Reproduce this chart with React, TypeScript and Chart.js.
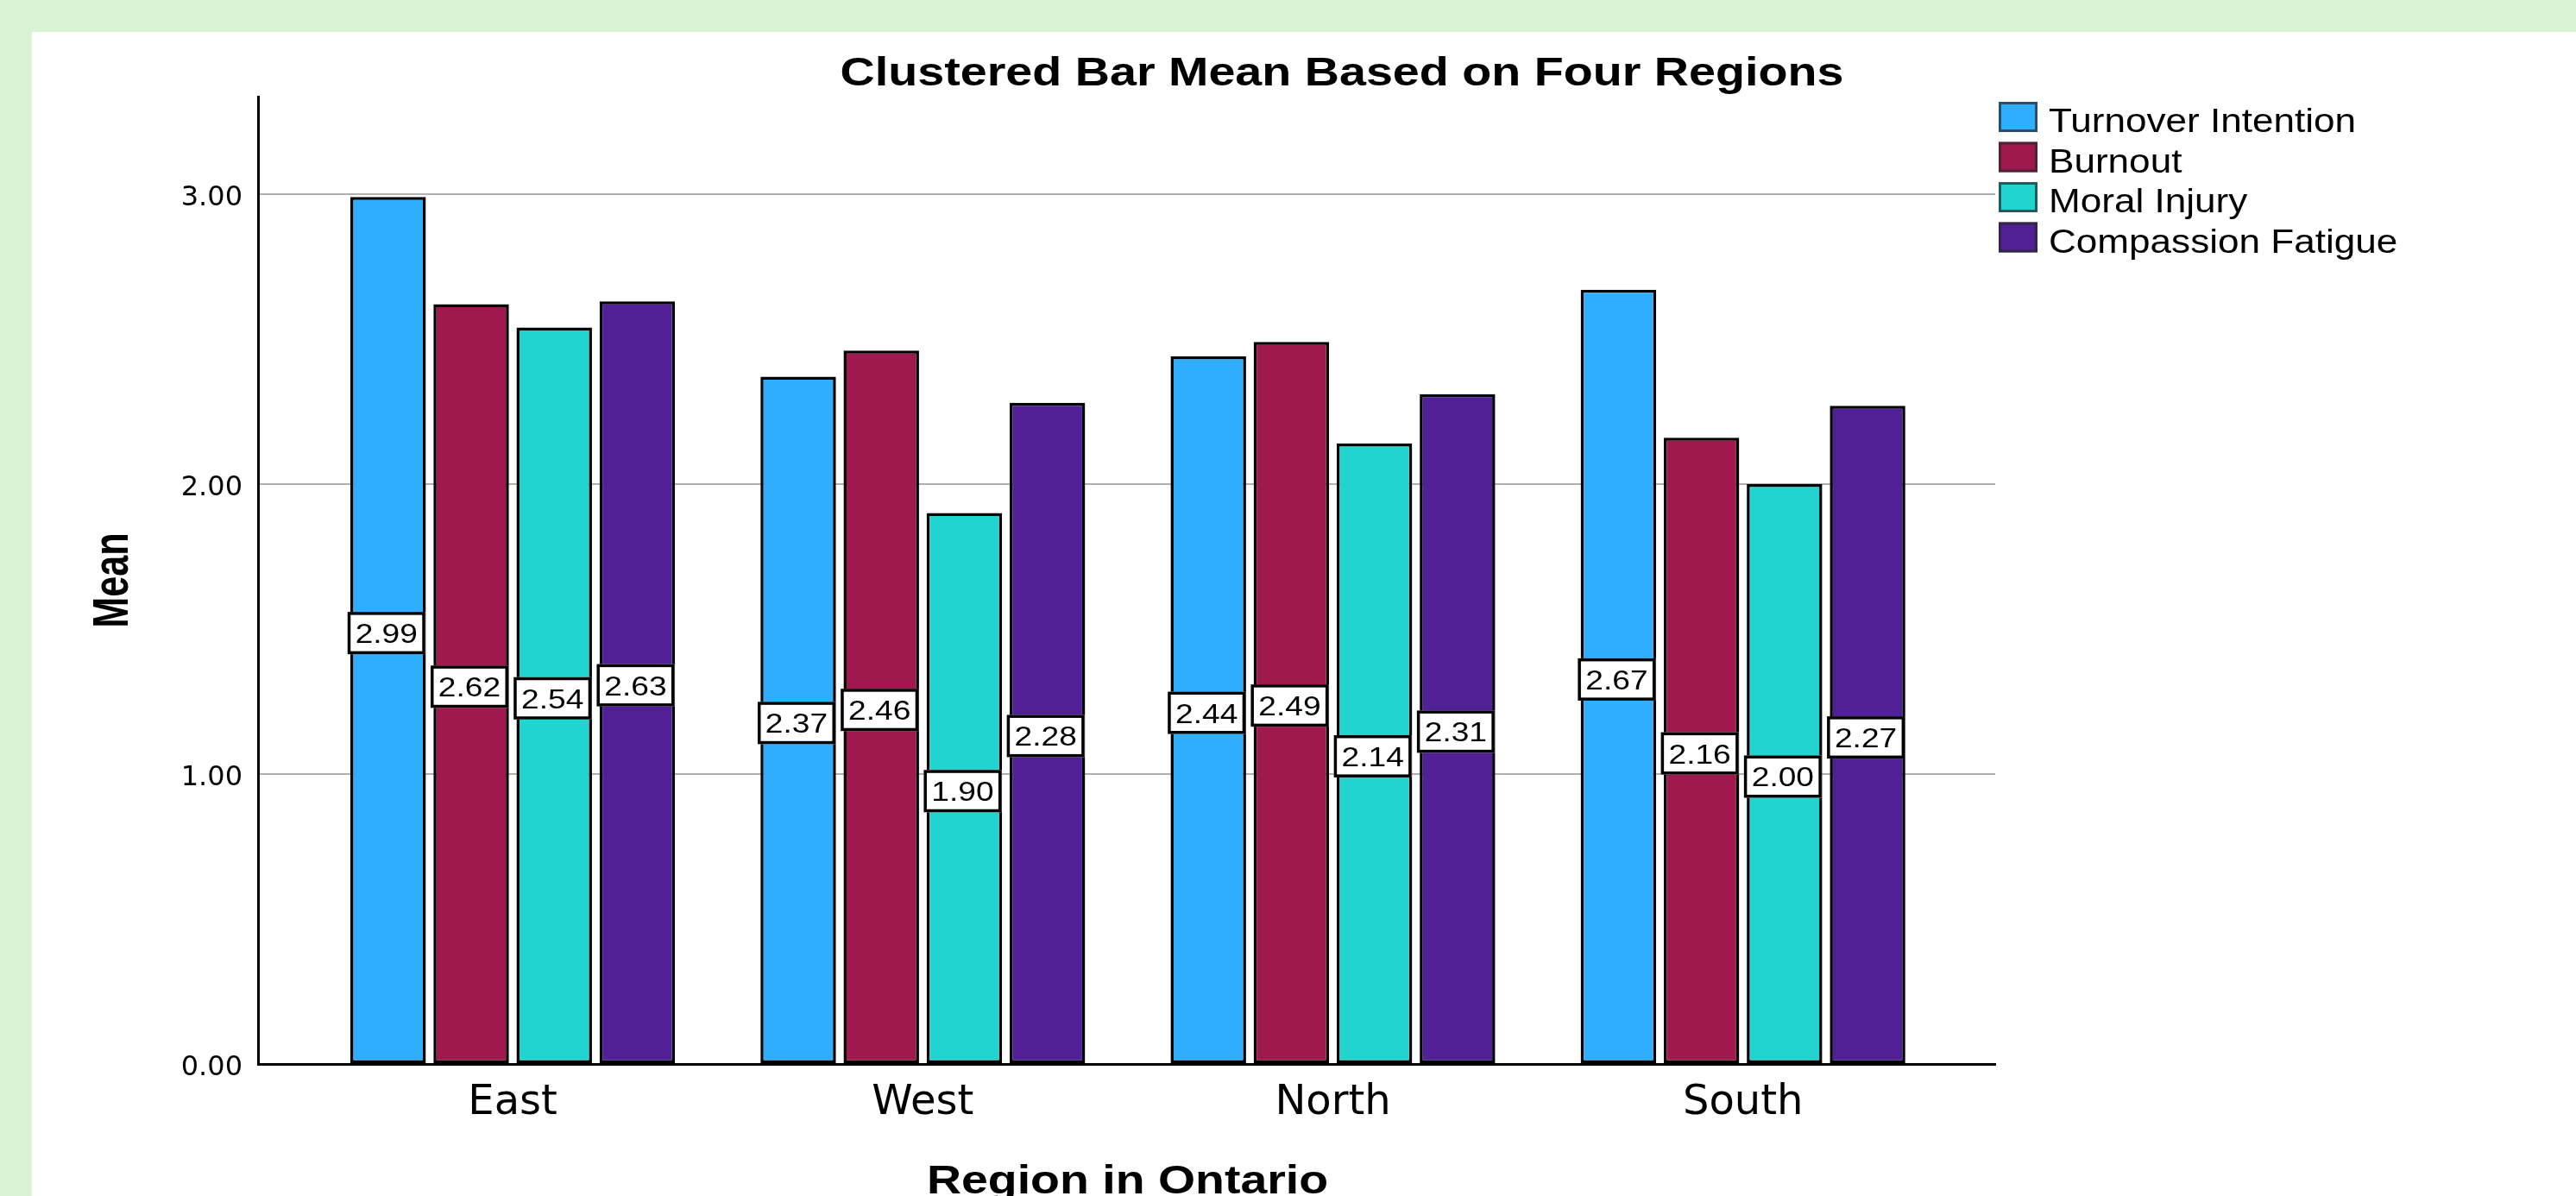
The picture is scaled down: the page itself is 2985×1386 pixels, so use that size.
import React, { useEffect, useRef } from 'react';
import { Chart, registerables } from 'chart.js';

Chart.register(...registerables);

// ---- data ----
const regions = ['East', 'West', 'North', 'South'];
const seriesNames = ['Turnover Intention', 'Burnout', 'Moral Injury', 'Compassion Fatigue'];
const turnoverIntention = [2.99, 2.37, 2.44, 2.67];
const burnout = [2.62, 2.46, 2.49, 2.16];
const moralInjury = [2.54, 1.9, 2.14, 2.0];
const compassionFatigue = [2.63, 2.28, 2.31, 2.27];
const yTickValues = [0, 1, 2, 3];

const chartTitle = 'Clustered Bar Mean Based on Four Regions';
const xAxisTitle = 'Region in Ontario';
const yAxisTitle = 'Mean';

const seriesColors = ['#30aefe', '#a0194e', '#21d4d0', '#511f96'];
const seriesValues = [turnoverIntention, burnout, moralInjury, compassionFatigue];

const CANVAS_W = 2948;
const CANVAS_H = 1349;

function drawStretched(ctx: CanvasRenderingContext2D, text: string, x: number, y: number, font: string, sx: number, align: CanvasTextAlign) {
  ctx.save();
  ctx.font = font;
  ctx.textAlign = align;
  ctx.textBaseline = 'alphabetic';
  ctx.fillStyle = '#000';
  ctx.translate(x, y);
  ctx.scale(sx, 1);
  ctx.fillText(text, 0, 0);
  ctx.restore();
}

const overlayPlugin = {
  id: 'spssOverlay',
  afterDatasetsDraw(chart: any) {
    const ctx: CanvasRenderingContext2D = chart.ctx;
    chart.data.datasets.forEach((ds: any, di: number) => {
      const meta = chart.getDatasetMeta(di);
      meta.data.forEach((el: any, j: number) => {
        const v = ds.data[j].y as number;
        const cx = el.x - 2;
        const cy = (el.y + el.base) / 2 + 3.5;
        const w = 90;
        const h = 49;
        ctx.save();
        ctx.fillStyle = '#fff';
        ctx.fillRect(cx - w / 2, cy - h / 2, w, h);
        ctx.strokeStyle = '#000';
        ctx.lineWidth = 3.5;
        ctx.strokeRect(cx - w / 2 + 1.75, cy - h / 2 + 1.75, w - 3.5, h - 3.5);
        ctx.restore();
        drawStretched(ctx, v.toFixed(2), cx, cy + 11.5, '32px "Liberation Sans"', 1.16, 'center');
      });
    });
  },
  afterDraw(chart: any) {
    const ctx: CanvasRenderingContext2D = chart.ctx;
    // chart title
    drawStretched(ctx, chartTitle, 1518, 62, 'bold 46px "Liberation Sans"', 1.21, 'center');
    // x axis title
    const area = chart.chartArea;
    drawStretched(ctx, xAxisTitle, (area.left + area.right) / 2 + 1, 1346, 'bold 47px "Liberation Sans"', 1.18, 'center');
    // y axis title (rotated)
    ctx.save();
    ctx.font = 'bold 48px "Liberation Sans"';
    ctx.textAlign = 'center';
    ctx.textBaseline = 'alphabetic';
    ctx.fillStyle = '#000';
    ctx.translate(111, (area.top + area.bottom) / 2);
    ctx.rotate(-Math.PI / 2);
    ctx.scale(0.9, 1.2);
    ctx.fillText(yAxisTitle, 0, 0);
    ctx.restore();
    // legend
    seriesNames.forEach((name, i) => {
      const bx = 2279;
      const by = 81 + 46.5 * i;
      ctx.save();
      ctx.fillStyle = seriesColors[i];
      ctx.fillRect(bx, by, 45, 35);
      ctx.strokeStyle = 'rgba(40,40,40,0.7)';
      ctx.lineWidth = 3;
      ctx.strokeRect(bx + 1.5, by + 1.5, 42, 32);
      ctx.restore();
      drawStretched(ctx, name, 2337, by + 35, '38px "Liberation Sans"', 1.16, 'left');
    });
  },
};

export default function App() {
  const canvasRef = useRef<HTMLCanvasElement>(null);

  useEffect(() => {
    const canvas = canvasRef.current;
    if (!canvas) return;
    const chart = new Chart(canvas, {
      type: 'bar',
      data: {
        datasets: seriesNames.map((name, i) => ({
          label: name,
          data: seriesValues[i].map((v, k) => ({ x: k, y: v })),
          backgroundColor: seriesColors[i],
          borderColor: '#000',
          borderWidth: 3.5,
          borderSkipped: false,
          categoryPercentage: 0.81,
          barPercentage: 0.909,
        })),
      },
      options: {
        responsive: false,
        animation: false,
        devicePixelRatio: 1,
        events: [],
        layout: { padding: { left: 0, right: 673, top: 75, bottom: 0 } },
        plugins: {
          legend: { display: false },
          title: { display: false },
          tooltip: { enabled: false },
        },
        scales: {
          x: {
            type: 'linear',
            min: -0.621,
            max: 3.615,
            offset: false,
            afterBuildTicks: (s: any) => {
              s.ticks = regions.map((_, i) => ({ value: i }));
            },
            afterFit: (s: any) => {
              s.height = 153;
            },
            grid: { display: false, drawTicks: false, offset: false },
            border: { display: true, color: '#000', width: 3 },
            ticks: {
              callback: (v: any) => regions[Number(v)] ?? '',
              font: { family: '"DejaVu Sans"', size: 48 },
              color: '#000',
              padding: 17,
              autoSkip: false,
              maxRotation: 0,
              minRotation: 0,
            },
          },
          y: {
            type: 'linear',
            min: 0,
            max: 3.336,
            afterBuildTicks: (s: any) => {
              s.ticks = yTickValues.map((v) => ({ value: v }));
            },
            afterFit: (s: any) => {
              s.width = 262;
            },
            grid: {
              color: (c: any) => (c.tick && c.tick.value === 0 ? 'rgba(0,0,0,0)' : '#b0b0b0'),
              lineWidth: 2,
              drawTicks: false,
            },
            border: { display: true, color: '#000', width: 3 },
            ticks: {
              callback: (v: any) => Number(v).toFixed(2),
              font: { family: '"DejaVu Sans"', size: 32 },
              color: '#000',
              padding: 18,
              labelOffset: 4.5,
            },
          },
        },
      } as any,
      plugins: [overlayPlugin],
    });
    return () => chart.destroy();
  }, []);

  return (
    <div
      style={{
        position: 'fixed',
        left: 0,
        top: 0,
        width: 2985,
        height: 1386,
        background: '#daf3d3',
        overflow: 'hidden',
      }}
    >
      <div style={{ position: 'absolute', left: 37, top: 37, width: CANVAS_W, height: CANVAS_H, background: '#fff' }}>
        <canvas
          ref={canvasRef}
          width={CANVAS_W}
          height={CANVAS_H}
          style={{ display: 'block', width: CANVAS_W, height: CANVAS_H }}
        />
      </div>
    </div>
  );
}
